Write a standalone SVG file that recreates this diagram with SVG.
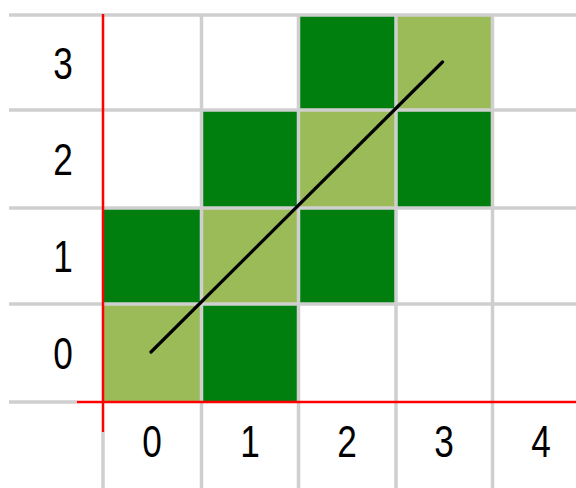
<svg xmlns="http://www.w3.org/2000/svg" width="576" height="488" viewBox="0 0 576 488">
<style>
.dk{fill:#007f0e}
.lt{fill:#9bbb59}
.g{stroke:#cfcfcf;stroke-width:3.5;fill:none}
.r{stroke:#ff0000;stroke-width:2.5;fill:none}
.lbl{font-family:"Liberation Sans",Arial,sans-serif;font-size:44px;fill:#000;text-anchor:middle}
</style>
<rect width="576" height="488" fill="#ffffff"/>
<g id="cells">
<rect id="c00" class="lt" x="103" y="304" width="98.5" height="98"/>
<rect id="c10" class="dk" x="201.5" y="304" width="97" height="98"/>
<rect id="c01" class="dk" x="103" y="208" width="98.5" height="96"/>
<rect id="c11" class="lt" x="201.5" y="208" width="97" height="96"/>
<rect id="c21" class="dk" x="298.5" y="208" width="97.5" height="96"/>
<rect id="c12" class="dk" x="201.5" y="110" width="97" height="98"/>
<rect id="c22" class="lt" x="298.5" y="110" width="97.5" height="98"/>
<rect id="c32" class="dk" x="396" y="110" width="96.5" height="98"/>
<rect id="c23" class="dk" x="298.5" y="15" width="97.5" height="95"/>
<rect id="c33" class="lt" x="396" y="15" width="96.5" height="95"/>
</g>
<g id="grid">
<path class="g" d="M9 15H576M9 110H576M9 208H576M9 304H576M9 402H77"/>
<path class="g" d="M201.5 15V488M298.5 15V488M396 15V488M492.5 15V488M103 432V488"/>
<path class="r" d="M103 14V432M77 402H576"/>
</g>
<g id="segment">
<line x1="151" y1="352" x2="442.5" y2="62" stroke="#000" stroke-width="3.2" stroke-linecap="round"/>
</g>
<g id="labels" class="lbl">
<text transform="translate(63,79) scale(0.8,1)">3</text>
<text transform="translate(63,175) scale(0.8,1)">2</text>
<text transform="translate(63,272) scale(0.8,1)">1</text>
<text transform="translate(63,369) scale(0.8,1)">0</text>
<text transform="translate(152,457) scale(0.8,1)">0</text>
<text transform="translate(250,457) scale(0.8,1)">1</text>
<text transform="translate(347,457) scale(0.8,1)">2</text>
<text transform="translate(444,457) scale(0.8,1)">3</text>
<text transform="translate(541,457) scale(0.8,1)">4</text>
</g>
</svg>
